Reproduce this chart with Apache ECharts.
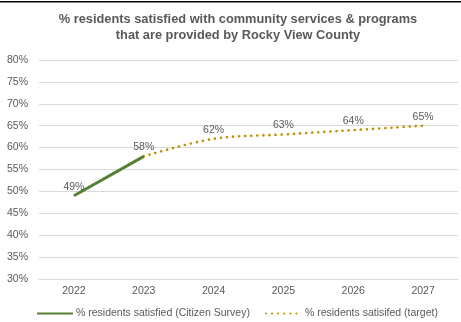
<!DOCTYPE html>
<html>
<head>
    <meta charset="utf-8">
    <title></title>
    <script src="https://cdn.jsdelivr.net/npm/echarts@6/dist/echarts.min.js"></script>
    <style>
        html, body { margin: 0; padding: 0; background: #fff; }
        #main { width: 461px; height: 322px; }
    </style>
</head>
<body>
<div id="main"></div>
<script type="text/javascript">
    var years = ['2022', '2023', '2024', '2025', '2026', '2027'];
    var surveyValues = [49, 58, null, null, null, null];
    var targetValues = [null, 58, 62, 63, 64, 65];
    var surveyName = '% residents satisfied (Citizen Survey)';
    var targetName = '% residents satisifed (target)';

    var txt = '#595959';
    var font = 'Liberation Sans';

    // 2023 target point shares the survey label, so hide it there
    var targetData = targetValues.map(function (v, i) {
        if (i === 1) return { value: v, label: { show: false } };
        return v;
    });

    var labelStyle = {
        show: true, position: 'top', distance: 3, formatter: '{c}%',
        color: txt, fontFamily: font, fontSize: 10.5
    };

    var chart = echarts.init(document.getElementById('main'));
    var option = {
        backgroundColor: '#fff',
        animation: false,
        title: {
            text: '% residents satisfied with community services & programs\nthat are provided by Rocky View County',
            left: 238,
            top: 11,
            padding: 0,
            textAlign: 'center',
            textStyle: {
                color: txt,
                fontFamily: font,
                fontWeight: 'bold',
                fontSize: 12.8,
                lineHeight: 16.5
            }
        },
        graphic: [{
            type: 'rect',
            shape: { x: 0, y: 1, width: 461, height: 1.5 },
            style: { fill: '#000' }
        }],
        legend: {
            top: 308,
            left: 36,
            padding: 0,
            itemWidth: 36,
            itemHeight: 10,
            itemGap: 15,
            textStyle: { color: txt, fontFamily: font, fontSize: 10.5, padding: [0, 0, 0, -2] },
            data: [surveyName, targetName]
        },
        grid: { left: 39, right: 3, top: 60, bottom: 43 },
        xAxis: {
            type: 'category',
            data: years,
            boundaryGap: true,
            axisLine: { lineStyle: { color: '#d9d9d9' } },
            axisTick: { show: false },
            axisLabel: { color: txt, fontFamily: font, fontSize: 10.5, margin: 7 }
        },
        yAxis: {
            type: 'value',
            min: 30,
            max: 80,
            interval: 5,
            axisLine: { show: false },
            axisTick: { show: false },
            axisLabel: { color: txt, fontFamily: font, fontSize: 10.5, margin: 11, formatter: '{value}%' },
            splitLine: { lineStyle: { color: '#d9d9d9', width: 1 } }
        },
        series: [{
            name: surveyName,
            type: 'line',
            data: surveyValues,
            symbol: 'circle',
            symbolSize: 1,
            itemStyle: { color: 'transparent' },
            lineStyle: { color: '#548235', width: 3 },
            label: labelStyle,
            z: 3
        }, {
            name: targetName,
            type: 'line',
            data: targetData,
            symbol: 'circle',
            symbolSize: 1,
            smooth: 0.35,
            itemStyle: { color: 'transparent' },
            lineStyle: { color: '#BF9000', width: 2.6, type: [0.1, 6], cap: 'round' },
            label: labelStyle,
            z: 2
        }]
    };
    chart.setOption(option);
</script>
</body>
</html>
